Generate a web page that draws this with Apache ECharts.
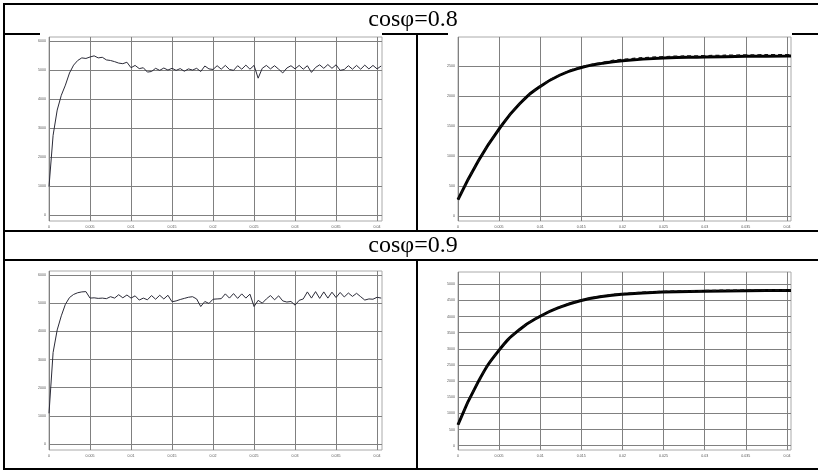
<!DOCTYPE html>
<html>
<head>
<meta charset="utf-8">
<script src="https://cdn.jsdelivr.net/npm/echarts@6/dist/echarts.min.js"></script>
<style>
  html, body { margin: 0; padding: 0; background: #fff; }
  #chart { width: 818px; height: 470px; }
</style>
</head>
<body>
<div id="chart"></div>
<script>
// headers of the two table rows
const rowTitles = ['cosφ=0.8', 'cosφ=0.9'];

// tick labels
const timeTicks = [0, 0.005, 0.01, 0.015, 0.02, 0.025, 0.03, 0.035, 0.04];
const speedTicks = [0, 1000, 2000, 3000, 4000, 5000, 6000];
const current08Ticks = [0, 500, 1000, 1500, 2000, 2500];
const current09Ticks = [0, 500, 1000, 1500, 2000, 2500, 3000, 3500, 4000, 4500, 5000];

// left column traces, one sample every 0.0005 s
const sampleStep = 0.0005;
const speed08 = [
  980, 2750, 3620, 4130, 4480, 4900, 5170, 5330, 5420, 5400,
  5450, 5490, 5420, 5440, 5350, 5330, 5290, 5240, 5220, 5270,
  5080, 5160, 5050, 5080, 4930, 4950, 5060, 4990, 5070, 5000,
  5060, 4990, 5050, 4960, 5040, 5000, 5060, 4950, 5140, 5040,
  5020, 5150, 5030, 5160, 5020, 4990, 5150, 5030, 5170, 5030,
  5160, 4720, 5060, 5160, 5040, 5150, 5030, 4900, 5070, 5150,
  5040, 5160, 5030, 5150, 4920, 5090, 5180, 5060, 5190, 5060,
  5180, 4990, 5020, 5150, 5030, 5160, 5030, 5170, 5040, 5160,
  5040, 5140
];
const speed09 = [
  1090, 3250, 4050, 4550, 4960, 5200, 5310, 5370, 5400, 5410,
  5180, 5190, 5170, 5180, 5160, 5230, 5180, 5300, 5190, 5290,
  5180, 5260, 5110, 5180, 5120, 5270, 5140, 5280, 5150, 5280,
  5050, 5080, 5130, 5170, 5210, 5230, 5150, 4880, 5060, 4990,
  5140, 5150, 5160, 5330, 5180, 5340, 5170, 5330, 5180, 5320,
  4880, 5100, 5000, 5150, 5270, 5120, 5260, 5080, 5040, 5060,
  4930, 5100, 5150, 5400, 5180, 5410, 5170, 5400, 5180, 5390,
  5200, 5380, 5220, 5360, 5240, 5350, 5230, 5110, 5150, 5140,
  5210, 5180
];

// right column traces
const smoothTime = [0, 0.0025, 0.005, 0.0075, 0.01, 0.0125, 0.015, 0.0175, 0.02, 0.025, 0.03, 0.035, 0.04, 0.0405];
const current08 = [270, 925, 1450, 1870, 2160, 2355, 2475, 2545, 2590, 2635, 2650, 2662, 2667, 2668];
const current08b = [270, 925, 1450, 1870, 2160, 2360, 2485, 2560, 2610, 2655, 2672, 2684, 2690, 2690];
const current09 = [650, 2000, 2960, 3600, 4010, 4300, 4500, 4620, 4690, 4760, 4785, 4800, 4805, 4805];
const current09b = [650, 2000, 2960, 3600, 4010, 4305, 4510, 4635, 4710, 4780, 4805, 4820, 4825, 4825];

const sampled = vals => vals.map((v, i) => [i * sampleStep, v]);
const paired = (ts, vals) => ts.map((t, i) => [t, vals[i]]);

const grids = [
  { left: 49, top: 37, width: 333, height: 184, show: true, borderColor: '#aaa', borderWidth: 1 },
  { left: 458, top: 37, width: 333, height: 184, show: true, borderColor: '#aaa', borderWidth: 1 },
  { left: 49, top: 271, width: 333, height: 179, show: true, borderColor: '#aaa', borderWidth: 1 },
  { left: 458, top: 272, width: 333, height: 178, show: true, borderColor: '#aaa', borderWidth: 1 }
];

const labelStyle = { color: '#555', fontSize: 3.6, fontFamily: 'Arial, "Liberation Sans"' };
const gridLine = { show: true, lineStyle: { color: '#808080', width: 1 } };

function xAxisFor(i, max) {
  return {
    type: 'value', gridIndex: i, min: 0, max: max,
    axisLine: { show: false, onZero: false },
    axisTick: { show: false, customValues: timeTicks },
    axisLabel: Object.assign({ customValues: timeTicks, margin: 4, formatter: v => String(v) }, labelStyle),
    splitLine: gridLine
  };
}
function yAxisFor(i, min, max, ticks) {
  return {
    type: 'value', gridIndex: i, min: min, max: max,
    axisLine: { show: false },
    axisTick: { show: false, customValues: ticks },
    axisLabel: Object.assign({ customValues: ticks, margin: 3, formatter: v => String(v) }, labelStyle),
    splitLine: gridLine
  };
}

const thin = { color: '#2b2b38', width: 1 };
const thick = { color: '#000', width: 3 };
const dashed = { color: '#111', width: 1.5, type: [4, 3] };

const tableLine = (x1, y1, x2, y2) => ({
  type: 'line', shape: { x1, y1, x2, y2 }, style: { stroke: '#000', lineWidth: 2 }, z: 10
});
const header = (text, y) => ({
  type: 'text', x: 413, y: y, z: 10,
  style: { text: text, font: '24px "Liberation Serif", "Times New Roman", serif', fill: '#000', align: 'center', verticalAlign: 'middle' }
});

const chart = echarts.init(document.getElementById('chart'), null, { renderer: 'canvas' });
chart.setOption({
  animation: false,
  backgroundColor: '#fff',
  grid: grids,
  xAxis: [xAxisFor(0, 0.0406), xAxisFor(1, 0.0405), xAxisFor(2, 0.0406), xAxisFor(3, 0.0405)],
  yAxis: [
    yAxisFor(0, -205, 6140, speedTicks),
    yAxisFor(1, -85, 2985, current08Ticks),
    yAxisFor(2, -213, 6142, speedTicks),
    yAxisFor(3, -133, 5381, current09Ticks)
  ],
  series: [
    { type: 'line', xAxisIndex: 0, yAxisIndex: 0, showSymbol: false, lineStyle: thin, data: sampled(speed08) },
    { type: 'line', xAxisIndex: 1, yAxisIndex: 1, showSymbol: false, smooth: 0.5, lineStyle: thick, data: paired(smoothTime, current08) },
    { type: 'line', xAxisIndex: 1, yAxisIndex: 1, showSymbol: false, smooth: 0.5, lineStyle: dashed, data: paired(smoothTime, current08b) },
    { type: 'line', xAxisIndex: 2, yAxisIndex: 2, showSymbol: false, lineStyle: thin, data: sampled(speed09) },
    { type: 'line', xAxisIndex: 3, yAxisIndex: 3, showSymbol: false, smooth: 0.5, lineStyle: thick, data: paired(smoothTime, current09) },
    { type: 'line', xAxisIndex: 3, yAxisIndex: 3, showSymbol: false, smooth: 0.5, lineStyle: dashed, data: paired(smoothTime, current09b) }
  ],
  graphic: [
    // table frame (right edge runs off the picture)
    tableLine(3, 4, 818, 4),
    tableLine(4, 3, 4, 470),
    tableLine(3, 469, 818, 469),
    tableLine(3, 34, 40, 34),
    tableLine(382, 34, 448, 34),
    tableLine(792, 34, 818, 34),
    tableLine(3, 231, 818, 231),
    tableLine(3, 260, 818, 260),
    tableLine(417, 34, 417, 231),
    tableLine(417, 260, 417, 469),
    header(rowTitles[0], 20),
    header(rowTitles[1], 246)
  ]
});
</script>
</body>
</html>
